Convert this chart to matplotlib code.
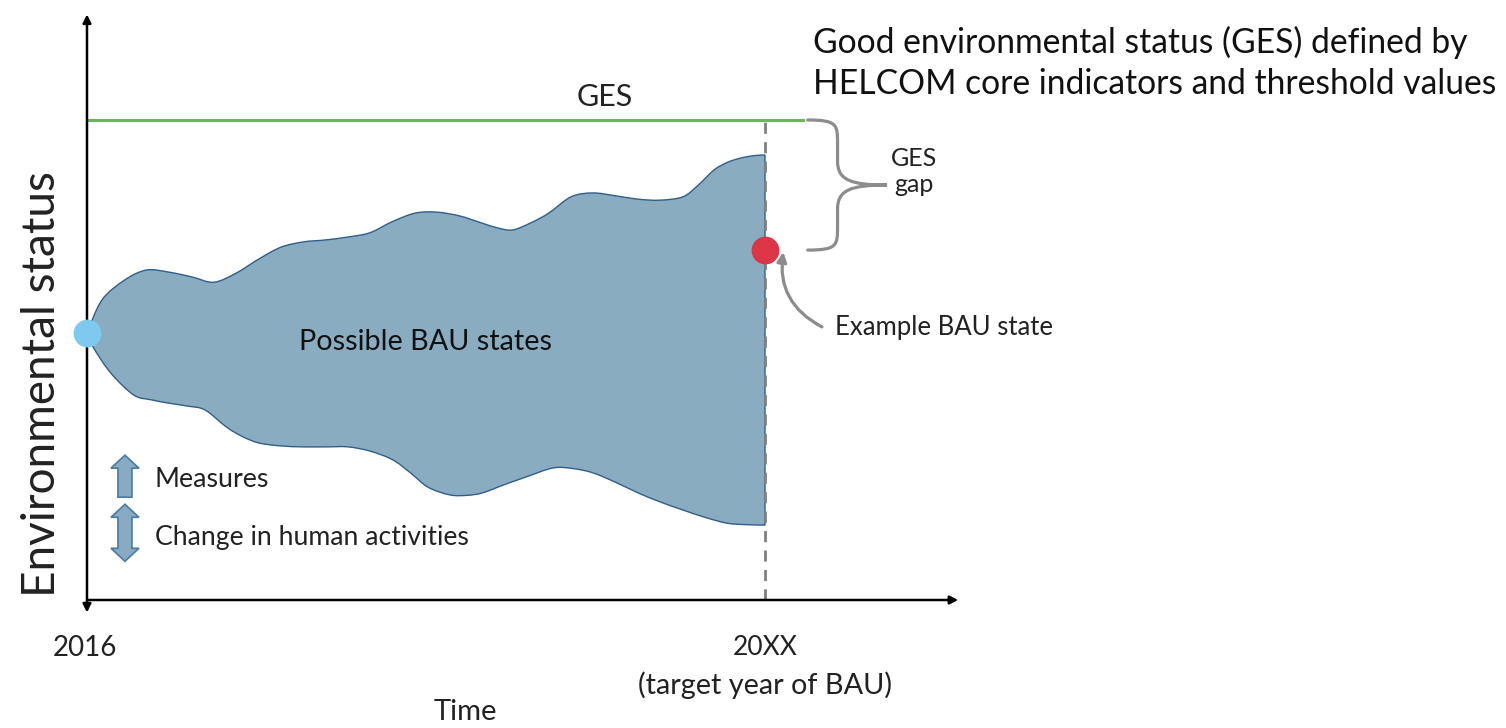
import matplotlib
matplotlib.use('Agg')
import matplotlib.pyplot as plt
import matplotlib.transforms as transforms
from matplotlib.path import Path
from matplotlib.patches import PathPatch, Polygon

plt.rcParams['font.family'] = ['Lato', 'DejaVu Sans']

# time: 0 = 2016, 10 = target year 20XX ; status: 100 = GES
upper_t = [0, 0.22, 0.56, 0.88, 1.21, 1.55, 1.87, 2.20, 2.53, 2.86, 3.19, 3.51, 3.84, 4.17,
           4.50, 4.84, 5.16, 5.50, 5.83, 6.06, 6.28, 6.55, 6.81, 7.14, 7.46, 7.80,
           8.13, 8.45, 8.79, 9.02, 9.25, 9.45, 9.65, 9.85, 10]
upper_s = [55.6, 62.5, 66.7, 68.75, 68.3, 67.3, 66.2, 68.1, 71.0, 73.5, 74.6, 75.0, 75.6, 76.5,
           78.8, 80.6, 80.8, 80.0, 78.5, 77.5, 77.1, 78.6, 80.6, 84.0, 84.8, 84.2,
           83.5, 83.3, 84.0, 86.5, 89.6, 91.2, 92.1, 92.6, 92.7]
lower_t = [0, 0.09, 0.35, 0.69, 0.95, 1.21, 1.48, 1.74, 2.06, 2.30, 2.54, 2.86, 3.19, 3.52,
           3.85, 4.18, 4.51, 4.77, 5.03, 5.35, 5.60, 5.83, 6.15, 6.47, 6.87, 7.16,
           7.46, 7.80, 8.13, 8.46, 8.79, 9.12, 9.44, 9.72, 10]
lower_s = [55.6, 52.7, 47.3, 42.7, 41.7, 41.0, 40.4, 39.6, 36.0, 34.0, 32.7, 32.1, 31.9, 31.9,
           31.9, 31.0, 29.2, 26.5, 23.5, 21.9, 21.8, 22.3, 24.0, 25.6, 27.5, 27.4,
           26.5, 24.5, 22.3, 20.4, 18.75, 17.2, 16.0, 15.7, 15.6]

ges_level = 100
start_state = 55.6
example_state = 72.9
target_t = 10

fig = plt.figure(figsize=(15.06, 7.28), dpi=100)
ax = fig.add_axes([0, 0, 1, 1])
ax.set_xlim(-1.283, 20.929)
ax.set_ylim(-26.667, 125)
ax.axis('off')


def smooth_segments(xs, ys):
    # catmull-rom through the read points, as bezier path pieces
    pts = list(zip(xs, ys))
    verts, codes = [], []
    n = len(pts)
    for i in range(n - 1):
        p0 = pts[max(i - 1, 0)]
        p1 = pts[i]
        p2 = pts[i + 1]
        p3 = pts[min(i + 2, n - 1)]
        c1 = (p1[0] + (p2[0] - p0[0]) / 6, p1[1] + (p2[1] - p0[1]) / 6)
        c2 = (p2[0] - (p3[0] - p1[0]) / 6, p2[1] - (p3[1] - p1[1]) / 6)
        verts += [c1, c2, p2]
        codes += [Path.CURVE4] * 3
    return verts, codes


# possible BAU states envelope
uv, uc = smooth_segments(upper_t, upper_s)
lv, lc = smooth_segments(lower_t[::-1], lower_s[::-1])
verts = [(upper_t[0], upper_s[0])] + uv + [(lower_t[-1], lower_s[-1])] + lv + [(0, 0)]
codes = [Path.MOVETO] + uc + [Path.LINETO] + lc + [Path.CLOSEPOLY]
ax.add_patch(PathPatch(Path(verts, codes), facecolor='#8aacc0', edgecolor='#2f5f8a',
                       lw=1.0, zorder=2))

# axes arrows
ax.annotate('', xy=(0, 122), xytext=(0, -2.6),
            arrowprops=dict(arrowstyle='<|-|>', lw=1.8, color='black',
                            mutation_scale=12, shrinkA=0, shrinkB=0), zorder=5)
ax.annotate('', xy=(12.85, 0), xytext=(0, 0),
            arrowprops=dict(arrowstyle='-|>', lw=1.8, color='black',
                            mutation_scale=12, shrinkA=0, shrinkB=0), zorder=5)

# GES line and target year
ax.plot([0, 10.56], [ges_level, ges_level], color='#6db55a', lw=2.2, zorder=3)
ax.plot([target_t, target_t], [0, ges_level], color='#7f7f7f', lw=2.0,
        ls=(0, (4, 3)), zorder=4)

ax.plot([0], [start_state], 'o', ms=19, color='#7fc9ef', zorder=6)
ax.plot([target_t], [example_state], 'o', ms=19, color='#dc3545', zorder=6)

# GES gap brace
x0, xm, xt = 10.63, 11.07, 11.8
top, bot = ges_level, example_state
mid = (top + bot) / 2
bverts = [(x0, top), (xm, top), (xm, top - 1), (xm, top - 5),
          (xm, mid + 5),
          (xm, mid + 1), (xm + 0.2, mid), (xt, mid),
          (xm + 0.2, mid), (xm, mid - 1), (xm, mid - 5),
          (xm, bot + 5),
          (xm, bot + 1), (xm, bot), (x0, bot)]
bcodes = [Path.MOVETO, Path.CURVE4, Path.CURVE4, Path.CURVE4,
          Path.LINETO,
          Path.CURVE4, Path.CURVE4, Path.CURVE4,
          Path.CURVE4, Path.CURVE4, Path.CURVE4,
          Path.LINETO,
          Path.CURVE4, Path.CURVE4, Path.CURVE4]
ax.add_patch(PathPatch(Path(bverts, bcodes), facecolor='none', edgecolor='#8c8c8c',
                       lw=2.3, capstyle='round', zorder=3))
ax.text(12.2, 89.2, 'GES\ngap', ha='center', va='center', fontsize=18,
        linespacing=1.15, color='#222222')

# example BAU state pointer
ax.annotate('', xy=(10.27, 72.5), xytext=(10.84, 56.9),
            arrowprops=dict(arrowstyle='-|>', lw=2.3, color='#8c8c8c',
                            mutation_scale=14, shrinkA=0, shrinkB=0,
                            connectionstyle='arc3,rad=-0.35'))
ax.text(11.03, 56.7, 'Example BAU state', ha='left', va='center', fontsize=18.5,
        color='#222222')


# legend arrows (shapes in inches around an anchor point)
def arrow_glyph(t, s, double):
    w, hw, hh, h = 0.07, 0.14, 0.13, 0.21
    if double:
        h = 0.285
        pts = [(0, h), (hw, h - hh), (w, h - hh), (w, -h + hh), (hw, -h + hh), (0, -h),
               (-hw, -h + hh), (-w, -h + hh), (-w, h - hh), (-hw, h - hh)]
    else:
        pts = [(0, h), (hw, h - hh), (w, h - hh), (w, -h), (-w, -h), (-w, h - hh), (-hw, h - hh)]
    tr = fig.dpi_scale_trans + transforms.ScaledTranslation(t, s, ax.transData)
    ax.add_patch(Polygon(pts, closed=True, transform=tr, facecolor='#88aac3',
                         edgecolor='#4a7ba3', lw=1.2, zorder=5))


arrow_glyph(0.56, 25.8, False)
arrow_glyph(0.56, 14.0, True)
ax.text(1.0, 25.0, 'Measures', ha='left', va='center', fontsize=19.3, color='#222222')
ax.text(1.0, 13.1, 'Change in human activities', ha='left', va='center', fontsize=19.2,
        color='#222222')

# labels
ax.text(7.64, 104.8, 'GES', ha='center', va='center', fontsize=22, color='#222222')
ax.text(10.71, 116.25, 'Good environmental status (GES) defined by', ha='left',
        va='center', fontsize=24.2, color='#111111')
ax.text(10.71, 107.5, 'HELCOM core indicators and threshold values', ha='left',
        va='center', fontsize=24.2, color='#111111')
ax.text(4.99, 53.75, 'Possible BAU states', ha='center', va='center', fontsize=20.7,
        color='#111111', zorder=6)
ax.text(-0.66, 45, 'Environmental status', ha='center', va='center', fontsize=33,
        rotation=90, color='#222222')
ax.text(-0.03, -10, '2016', ha='center', va='center', fontsize=20, color='#222222')
ax.text(target_t, -10, '20XX', ha='center', va='center', fontsize=19, color='#222222')
ax.text(target_t, -17.7, '(target year of BAU)', ha='center', va='center', fontsize=20.8,
        color='#222222')
ax.text(5.58, -23.3, 'Time', ha='center', va='center', fontsize=21, color='#222222')

fig.savefig('out.png', dpi=100)
